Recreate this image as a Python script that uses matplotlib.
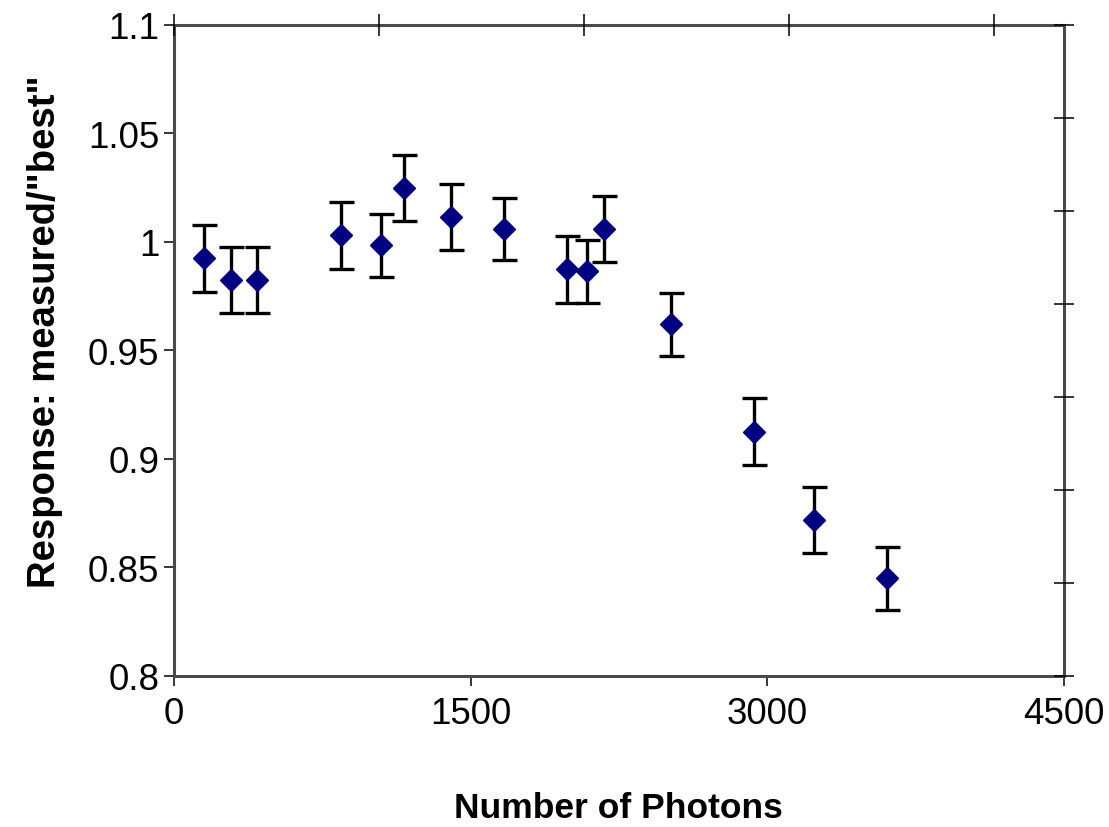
import matplotlib.pyplot as plt
from matplotlib.ticker import FuncFormatter

plt.rcParams['font.family'] = ['Liberation Sans', 'DejaVu Sans']

# Measured response vs number of photons
photons = [152, 287, 421, 843, 1045, 1163, 1399, 1668, 1989, 2090, 2174, 2511, 2932, 3236, 3606]
response = [0.9925, 0.9825, 0.9825, 1.003, 0.9985, 1.025, 1.0115, 1.006,
            0.9875, 0.9865, 1.006, 0.962, 0.9125, 0.872, 0.845]
response_err = [0.0154, 0.0154, 0.0154, 0.0154, 0.0146, 0.0151, 0.0152, 0.0144,
                0.0154, 0.0144, 0.0153, 0.0144, 0.0154, 0.0152, 0.0146]

x_ticks = [0, 1500, 3000, 4500]
y_ticks = [0.8, 0.85, 0.9, 0.95, 1.0, 1.05, 1.1]

fig = plt.figure(figsize=(11.09, 8.28), dpi=100)
ax = fig.add_axes([0.1569, 0.1824, 0.8025, 0.7862])

ax.errorbar(photons, response, yerr=response_err, fmt='D', color='#000080',
            markersize=11.5, markeredgecolor='#000080',
            ecolor='black', elinewidth=2.4, capsize=9, capthick=2.4, zorder=3)

ax.set_xlim(0, 4500)
ax.set_ylim(0.8, 1.1)
ax.set_xticks(x_ticks)
ax.set_yticks(y_ticks)
ax.yaxis.set_major_formatter(FuncFormatter(lambda v, pos: f'{v:g}'))
ax.tick_params(axis='both', direction='out', length=7.5, width=1.1,
               labelsize=26.5, color='black')
ax.tick_params(axis='x', pad=7)
ax.tick_params(axis='y', pad=3)

for sp in ax.spines.values():
    sp.set_color('#4a4a4a')
    sp.set_linewidth(2.2)

# Secondary axes only for the extra tick marks on top and right
ax_top = ax.twiny()
ax_top.set_xlim(0, 4342)
ax_top.set_xticks([0, 1000, 2000, 3000, 4000])
ax_top.tick_params(axis='x', direction='inout', length=16, width=1.1,
                   labeltop=False, color='black')
ax_right = ax.twinx()
ax_right.set_ylim(0, 7)
ax_right.set_yticks(range(8))
ax_right.tick_params(axis='y', direction='inout', length=14.5, width=1.1,
                     labelright=False, color='black')
for a in (ax_top, ax_right):
    for sp in a.spines.values():
        sp.set_visible(False)

fig.text(0.041, 0.599, 'Response: measured/"best"', rotation=90,
         ha='center', va='center', fontsize=27.5, fontweight='bold')
fig.text(0.558, 0.004, 'Number of Photons', ha='center', va='bottom',
         fontsize=25.5, fontweight='bold')

fig.savefig('out.png', dpi=100)
